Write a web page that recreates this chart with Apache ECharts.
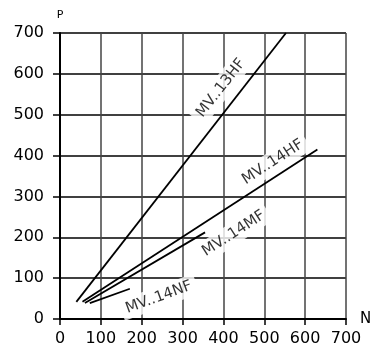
<!DOCTYPE html>
<html>
<head>
<meta charset="utf-8">
<script src="https://cdn.jsdelivr.net/npm/echarts@6/dist/echarts.min.js"></script>
<style>
  html, body { margin: 0; padding: 0; background: #fff; }
  #chart { width: 381px; height: 353px; }
</style>
</head>
<body>
<div id="chart"></div>
<script>
// Characteristic lines: power P against speed N for each model
const curveNames = ['MV..13HF', 'MV..14HF', 'MV..14MF', 'MV..14NF'];
const line13HF = [[40, 42], [553, 700]];
const line14HF = [[55, 42], [630, 415]];
const line14MF = [[61, 39], [355, 212]];
const line14NF = [[73, 39], [171, 74]];

// Label anchor points (data units) and text angles for each line
const labelPoints = [[394, 565], [521, 384], [425, 209], [242, 53]];
const labelAngles = [52, 33, 33, 20];

const xTicks = [0, 100, 200, 300, 400, 500, 600, 700];
const yTicks = [0, 100, 200, 300, 400, 500, 600, 700];

const FONT = 'DejaVu Sans';

const lineSeries = [line13HF, line14HF, line14MF, line14NF].map((pts, i) => ({
  name: curveNames[i],
  type: 'line',
  data: pts,
  symbol: 'none',
  z: 5,
  lineStyle: { color: '#000', width: 1.8 },
  animation: false
}));

const labelSeries = labelPoints.map((p, i) => ({
  type: 'scatter',
  data: [p],
  symbolSize: 0,
  z: 3,
  silent: true,
  animation: false,
  label: {
    show: true,
    position: 'inside',
    formatter: curveNames[i],
    rotate: labelAngles[i],
    align: 'center',
    verticalAlign: 'middle',
    color: '#000',
    fontFamily: FONT,
    fontSize: 15,
    backgroundColor: '#fff',
    padding: [3, 5]
  }
}));

const chart = echarts.init(document.getElementById('chart'), null, { renderer: 'canvas' });
chart.setOption({
  backgroundColor: '#fff',
  animation: false,
  grid: { left: 60, right: 35, top: 33, bottom: 34 },
  xAxis: {
    type: 'value',
    min: xTicks[0],
    max: xTicks[xTicks.length - 1],
    interval: 100,
    name: 'N',
    nameLocation: 'end',
    nameGap: 14,
    nameTextStyle: { fontFamily: FONT, fontSize: 15, color: '#000', verticalAlign: 'middle', padding: [0, 0, 0, 0] },
    axisLine: { show: true, lineStyle: { color: '#000', width: 2 } },
    axisTick: { show: true, length: 6, lineStyle: { color: '#000', width: 1.5 } },
    axisLabel: { fontFamily: FONT, fontSize: 16, color: '#000', margin: 12 },
    splitLine: { show: true, lineStyle: { color: '#444', width: 1.5 } }
  },
  yAxis: {
    type: 'value',
    min: yTicks[0],
    max: yTicks[yTicks.length - 1],
    interval: 100,
    name: 'P',
    nameLocation: 'end',
    nameGap: 12,
    nameTextStyle: { fontFamily: FONT, fontSize: 11, color: '#000', align: 'center' },
    axisLine: { show: true, lineStyle: { color: '#000', width: 2 } },
    axisTick: { show: true, length: 7, lineStyle: { color: '#000', width: 1.5 } },
    axisLabel: { fontFamily: FONT, fontSize: 16, color: '#000', margin: 16 },
    splitLine: { show: true, lineStyle: { color: '#000', width: 1.5 } }
  },
  series: lineSeries.concat(labelSeries)
});
</script>
</body>
</html>
